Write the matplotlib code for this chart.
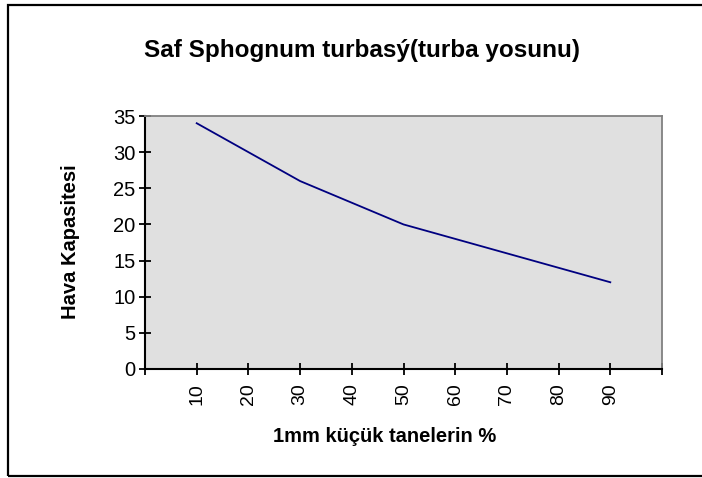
import matplotlib
matplotlib.use("Agg")
import matplotlib.pyplot as plt
from matplotlib.patches import Rectangle

plt.rcParams["font.family"] = ["Liberation Sans", "DejaVu Sans"]

# data
fine_share = [10, 20, 30, 40, 50, 60, 70, 80, 90]
air_capacity = [34, 30, 26, 23, 20, 18, 16, 14, 12]
x_ticks = list(range(0, 101, 10))
x_labels = [""] + [str(v) for v in fine_share] + [""]
y_ticks = list(range(0, 36, 5))

W, H = 702, 478
fig = plt.figure(figsize=(W / 100, H / 100), dpi=100)
fig.patch.set_facecolor("white")

# outer chart frame (open on the right like the original crop)
fig.add_artist(Rectangle((8 / W, 2 / H), 1.2, (476 - 5) / H,
                         transform=fig.transFigure, fill=False,
                         edgecolor="black", linewidth=1.6, clip_on=False))

ax = fig.add_axes([145 / W, 1 - 369 / H, (662 - 145) / W, (369 - 116) / H])
ax.set_facecolor("#e0e0e0")
ax.plot(fine_share, air_capacity, color="#000080", linewidth=1.3)

ax.set_xlim(0, 100)
ax.set_ylim(0, 35)
ax.set_xticks(x_ticks)
ax.set_xticklabels(x_labels, rotation=90, fontsize=14)
ax.set_yticks(y_ticks)
ax.set_yticklabels([str(v) for v in y_ticks], fontsize=14.5)
ax.tick_params(axis="both", direction="inout", length=8, width=1.3,
               color="black", pad=3)
ax.tick_params(axis="x", pad=6)

for side in ("left", "bottom"):
    ax.spines[side].set_color("black")
    ax.spines[side].set_linewidth(1.5)
for side in ("top", "right"):
    ax.spines[side].set_color("#808080")
    ax.spines[side].set_linewidth(1.3)

fig.text(362 / W, 1 - 50 / H, "Saf Sphognum turbasý(turba yosunu)",
         ha="center", va="center", fontsize=17.5, fontweight="bold")
fig.text(70 / W, 1 - 242 / H, "Hava Kapasitesi", rotation=90,
         ha="center", va="center", fontsize=14.5, fontweight="bold")
fig.text(385 / W, 1 - 436 / H, "1mm küçük tanelerin %",
         ha="center", va="center", fontsize=14.5, fontweight="bold")

fig.savefig("out.png", dpi=100)
